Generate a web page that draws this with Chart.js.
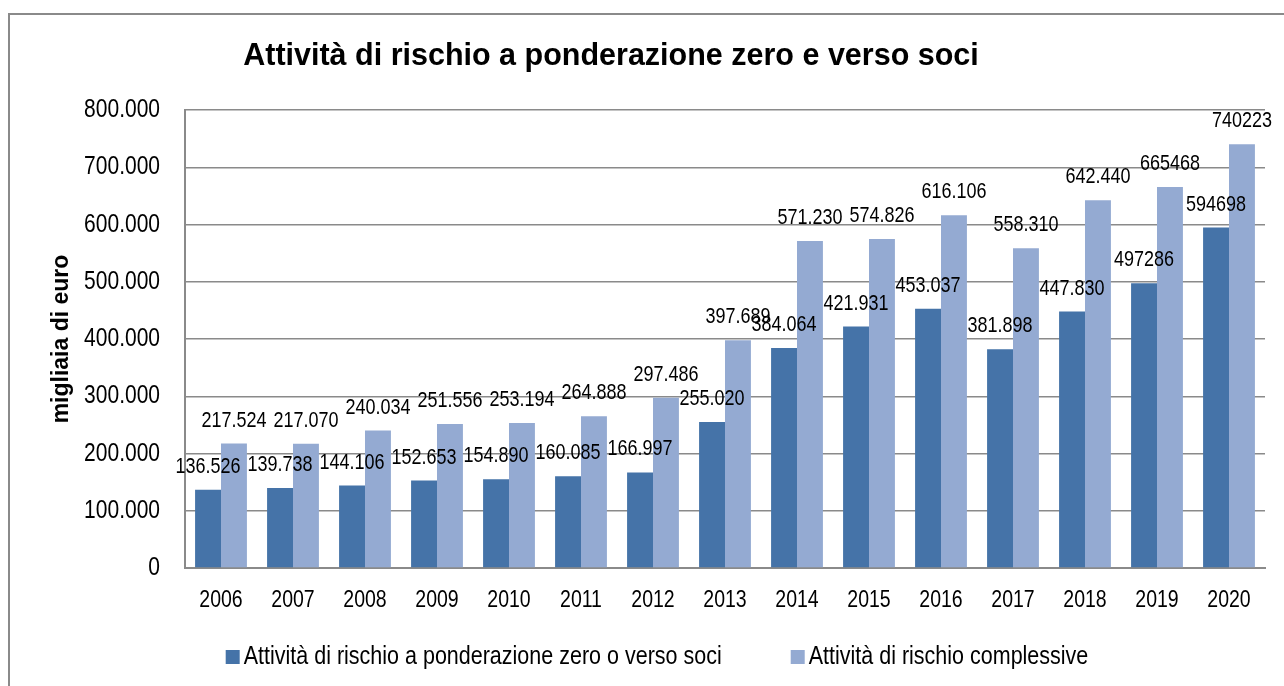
<!DOCTYPE html>
<html lang="it">
<head>
<meta charset="UTF-8">
<title>Attività di rischio</title>
<script src="https://cdn.jsdelivr.net/npm/chart.js"></script>
<style>
    body { margin: 0; background: #fff; }
    #wrap { width: 1284px; height: 686px; }
</style>
<script>
    const years = ["2006", "2007", "2008", "2009", "2010", "2011", "2012", "2013", "2014", "2015", "2016", "2017", "2018", "2019", "2020"];
    const zeroWeight = [136526, 139738, 144106, 152653, 154890, 160085, 166997, 255020, 384064, 421931, 453037, 381898, 447830, 497286, 594698];
    const totalRisk = [217524, 217070, 240034, 251556, 253194, 264888, 297486, 397689, 571230, 574826, 616106, 558310, 642440, 665468, 740223];
    // labels as printed on the original (last two years have no separator)
    const zeroWeightLabels = ["136.526", "139.738", "144.106", "152.653", "154.890", "160.085", "166.997", "255.020", "384.064", "421.931", "453.037", "381.898", "447.830", "497286", "594698"];
    const totalRiskLabels = ["217.524", "217.070", "240.034", "251.556", "253.194", "264.888", "297.486", "397.689", "571.230", "574.826", "616.106", "558.310", "642.440", "665468", "740223"];
    const seriesNames = ["Attività di rischio a ponderazione zero o verso soci", "Attività di rischio complessive"];
    const chartTitle = "Attività di rischio a ponderazione zero e verso soci";
    const yTitle = "migliaia di euro";

    const FONT = "'Liberation Sans', Arial, sans-serif";
    const TALL = 1.22; // the original uses a narrow face, so plain text is stretched up a bit

    function fmt(v) {
        return v === 0 ? "0" : String(v).replace(/\B(?=(\d{3})+(?!\d))/g, ".");
    }

    function tallText(ctx, s, x, y, align) {
        ctx.save();
        ctx.translate(x, y);
        ctx.scale(1, TALL);
        ctx.textAlign = align;
        ctx.textBaseline = 'middle';
        ctx.fillText(s, 0, 0);
        ctx.restore();
    }

    // frame, title, tick texts and legend drawn by hand
    const framePlugin = {
        id: 'frame',
        beforeDraw(chart) {
            let ctx = chart.ctx;
            ctx.save();
            ctx.fillStyle = '#fff';
            ctx.fillRect(0, 0, chart.width, chart.height);
            ctx.strokeStyle = '#8a8a8a';
            ctx.lineWidth = 2;
            ctx.strokeRect(9, 14, chart.width + 20, chart.height + 20);
            ctx.fillStyle = '#000';
            ctx.font = "bold 30.5px " + FONT;
            ctx.textAlign = 'center';
            ctx.textBaseline = 'alphabetic';
            ctx.fillText(chartTitle, 611, 65);
            ctx.restore();
        },
        afterDraw(chart) {
            let ctx = chart.ctx;
            let xs = chart.scales.x, ys = chart.scales.y;
            ctx.save();
            ctx.fillStyle = '#000';

            ctx.font = "21px " + FONT;
            ys.ticks.forEach(t => {
                tallText(ctx, fmt(t.value), ys.right - 25, ys.getPixelForValue(t.value), 'right');
            });

            ctx.font = "19.5px " + FONT;
            years.forEach((y, i) => {
                tallText(ctx, y, xs.getPixelForValue(i), 600, 'center');
            });

            ctx.font = "21.5px " + FONT;
            let box = 14, gapText = 4, gapItem = 69, cy = 657;
            let items = chart.data.datasets.map(ds => ({
                color: ds.backgroundColor,
                text: ds.label,
                w: box + gapText + ctx.measureText(ds.label).width
            }));
            let total = items.reduce((s, it) => s + it.w, 0) + gapItem * (items.length - 1);
            let x = 657 - total / 2;
            items.forEach(it => {
                ctx.fillStyle = it.color;
                ctx.fillRect(x, cy - box / 2, box, box);
                ctx.fillStyle = '#000';
                tallText(ctx, it.text, x + box + gapText, cy, 'left');
                x += it.w + gapItem;
            });
            ctx.restore();
        }
    };

    const valueLabels = {
        id: 'valueLabels',
        afterDatasetsDraw(chart) {
            let ctx = chart.ctx;
            let texts = [zeroWeightLabels, totalRiskLabels];
            ctx.save();
            ctx.fillStyle = '#000';
            ctx.font = "18px " + FONT;
            chart.data.datasets.forEach((ds, i) => {
                chart.getDatasetMeta(i).data.forEach((bar, j) => {
                    tallText(ctx, texts[i][j], bar.x, bar.y - 23, 'center');
                });
            });
            ctx.restore();
        }
    };

    function draw() {
        let ctx = document.getElementById('riskChart').getContext('2d');
        new Chart(ctx, {
            type: 'bar',
            data: {
                labels: years,
                datasets: [{
                    label: seriesNames[0],
                    data: zeroWeight,
                    backgroundColor: '#4573a8'
                }, {
                    label: seriesNames[1],
                    data: totalRisk,
                    backgroundColor: '#94aad2'
                }]
            },
            options: {
                responsive: false,
                animation: false,
                categoryPercentage: 0.72,
                barPercentage: 1.0,
                layout: { padding: { left: 15, top: 110, right: 19, bottom: 56 } },
                plugins: {
                    title: { display: false },
                    tooltip: { enabled: false },
                    legend: { display: false }
                },
                scales: {
                    x: {
                        grid: { display: false, drawTicks: false },
                        border: { color: '#8a8a8a', width: 2 },
                        ticks: { display: false },
                        afterFit(scale) { scale.height = 62; }
                    },
                    y: {
                        min: 0,
                        max: 800000,
                        grid: { color: '#8a8a8a', lineWidth: 1.5, drawTicks: false },
                        border: { color: '#8a8a8a', width: 2 },
                        ticks: { stepSize: 100000, display: false },
                        title: {
                            display: true,
                            text: yTitle,
                            color: '#000',
                            padding: { top: 33, bottom: 0 },
                            font: { family: FONT, size: 23, weight: 'bold' }
                        },
                        afterFit(scale) { scale.width = 170; }
                    }
                }
            },
            plugins: [framePlugin, valueLabels]
        });
    }
</script>
</head>
<body onload="draw()">
<div id="wrap"><canvas id="riskChart" width="1284" height="686"></canvas></div>
</body>
</html>
